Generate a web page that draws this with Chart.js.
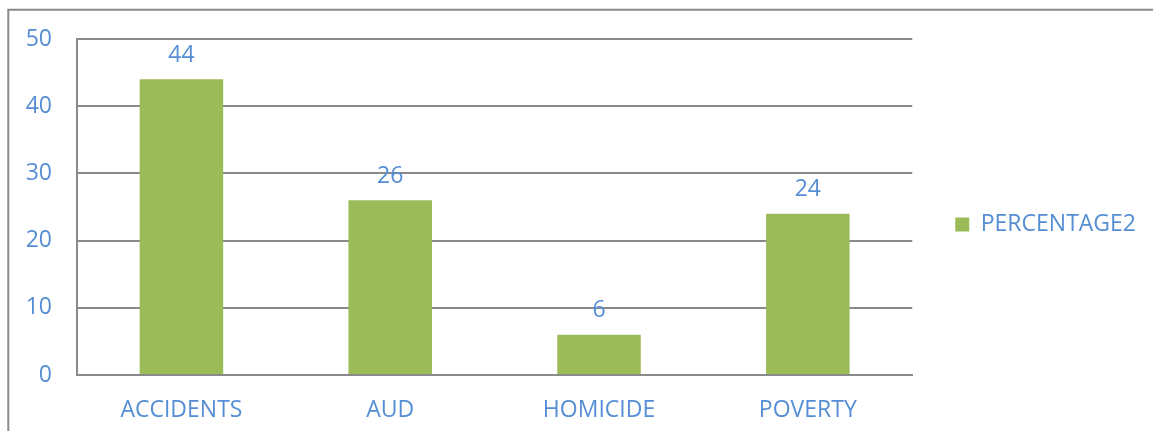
<!DOCTYPE html>
<html>
<head>
<meta charset="utf-8">
<title>PERCENTAGE2</title>
<script src="https://cdn.jsdelivr.net/npm/chart.js@4.4.1/dist/chart.umd.min.js"></script>
<style>
    html, body { margin: 0; padding: 0; background: #ffffff; }
    #chartWrap { width: 1153px; height: 431px; }
</style>
</head>
<body>
<div id="chartWrap">
    <canvas id="causeChart" width="1153" height="431"></canvas>
</div>
<script>
// Chart data
const categories = ['ACCIDENTS', 'AUD', 'HOMICIDE', 'POVERTY'];
const percentages = [44, 26, 6, 24];
const seriesName = 'PERCENTAGE2';
const yTickValues = [0, 10, 20, 30, 40, 50];

const textBlue = '#558ed5';
const barGreen = '#9bbb59';
const lineGray = '#8a8a8a';
const fontFamily = '"Open Sans", "Liberation Sans", sans-serif';
const fontSize = 23;

// Frame around the chart (left and top edges)
const framePlugin = {
    id: 'frame',
    beforeDraw(chart) {
        const c = chart.ctx;
        c.save();
        c.strokeStyle = lineGray;
        c.lineWidth = 2;
        c.beginPath();
        c.moveTo(8.3, chart.height + 2);
        c.lineTo(8.3, 9.8);
        c.lineTo(chart.width + 2, 9.8);
        c.stroke();
        c.restore();
    }
};

// Value labels above each bar
const valueLabels = {
    id: 'valueLabels',
    afterDatasetsDraw(chart) {
        const c = chart.ctx;
        const meta = chart.getDatasetMeta(0);
        const values = chart.data.datasets[0].data;
        c.save();
        c.fillStyle = textBlue;
        c.font = fontSize + 'px ' + fontFamily;
        c.textAlign = 'center';
        c.textBaseline = 'middle';
        meta.data.forEach((bar, i) => {
            c.fillText(String(values[i]), bar.x, bar.y - 24);
        });
        c.restore();
    }
};

document.addEventListener('DOMContentLoaded', function () {
    const ctx = document.getElementById('causeChart');

    new Chart(ctx, {
        type: 'bar',
        data: {
            labels: categories,
            datasets: [{
                label: seriesName,
                data: percentages,
                backgroundColor: barGreen,
                borderWidth: 0,
                categoryPercentage: 1,
                barPercentage: 0.4
            }]
        },
        options: {
            responsive: false,
            animation: false,
            layout: {
                padding: { top: 18, bottom: 0, left: 0.7, right: 7 }
            },
            plugins: {
                tooltip: { enabled: false },
                legend: {
                    position: 'right',
                    labels: {
                        boxWidth: 14,
                        boxHeight: 14,
                        padding: 43,
                        color: textBlue,
                        font: { family: fontFamily, size: fontSize }
                    }
                }
            },
            scales: {
                x: {
                    afterFit: function (scale) {
                        scale.height = 56;
                    },
                    grid: { display: false, drawTicks: false },
                    border: { display: true, color: lineGray, width: 2 },
                    ticks: {
                        color: textBlue,
                        padding: 12,
                        font: { family: fontFamily, size: fontSize, lineHeight: 2 }
                    }
                },
                y: {
                    min: 0,
                    max: 50,
                    afterBuildTicks: function (scale) {
                        scale.ticks = yTickValues.map(v => ({ value: v }));
                    },
                    afterFit: function (scale) {
                        scale.paddingTop = 39;
                    },
                    grid: { color: lineGray, lineWidth: 2, drawTicks: false },
                    border: { display: true, color: lineGray, width: 2 },
                    ticks: {
                        color: textBlue,
                        padding: 25,
                        font: { family: fontFamily, size: fontSize }
                    }
                }
            }
        },
        plugins: [framePlugin, valueLabels]
    });
});
</script>
</body>
</html>
